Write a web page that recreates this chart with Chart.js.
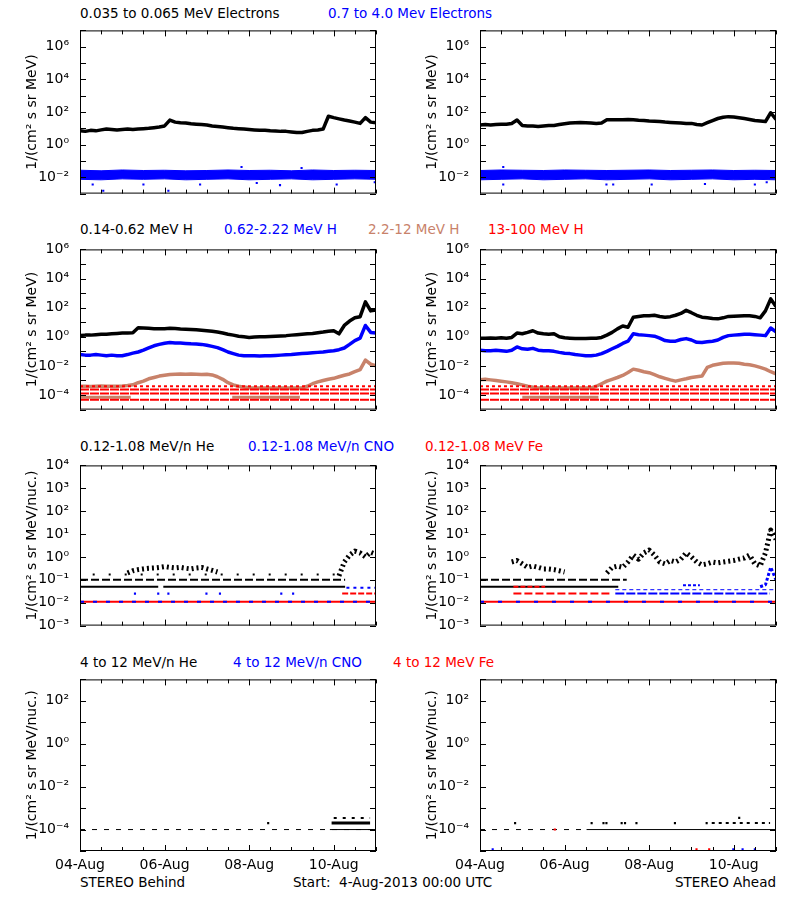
<!DOCTYPE html>
<html>
<head>
<meta charset="utf-8">
<script src="https://cdn.jsdelivr.net/npm/chart.js@4.4.1/dist/chart.umd.min.js"></script>
<style>
body { margin: 0; background: #fff; width: 800px; height: 900px; position: relative; overflow: hidden; font-family: "DejaVu Sans", sans-serif; }
canvas { position: absolute; }
.t { position: absolute; font-size: 13.5px; line-height: 16px; white-space: pre; }
</style>
</head>
<body>
<div class="t" style="left:80px;top:5px;color:#000">0.035 to 0.065 MeV Electrons</div>
<div class="t" style="left:328px;top:5px;color:#0000ff">0.7 to 4.0 Mev Electrons</div>
<div class="t" style="left:80px;top:221px;color:#000">0.14-0.62 MeV H</div>
<div class="t" style="left:224px;top:221px;color:#0000ff">0.62-2.22 MeV H</div>
<div class="t" style="left:368px;top:221px;color:#c8826a">2.2-12 MeV H</div>
<div class="t" style="left:488px;top:221px;color:#ff0000">13-100 MeV H</div>
<div class="t" style="left:80px;top:438px;color:#000">0.12-1.08 MeV/n He</div>
<div class="t" style="left:248px;top:438px;color:#0000ff">0.12-1.08 MeV/n CNO</div>
<div class="t" style="left:425px;top:438px;color:#ff0000">0.12-1.08 MeV Fe</div>
<div class="t" style="left:80px;top:654px;color:#000">4 to 12 MeV/n He</div>
<div class="t" style="left:233px;top:654px;color:#0000ff">4 to 12 MeV/n CNO</div>
<div class="t" style="left:393px;top:654px;color:#ff0000">4 to 12 MeV Fe</div>
<div class="t" style="left:80px;top:874px">STEREO Behind</div>
<div class="t" style="left:293px;top:874px">Start:  4-Aug-2013 00:00 UTC</div>
<div class="t" style="right:24px;top:874px">STEREO Ahead</div>
<script>
// time axis: days since 04-Aug-2013 00:00, values every 3 hours
const STEP = 0.125;
const dayLabels = ['04-Aug', '05-Aug', '06-Aug', '07-Aug', '08-Aug', '09-Aug', '10-Aug', '11-Aug'];

// ---- row 1: electrons ----
const eLowB = [7,6.5,7.5,7,8,9,8.5,8,8.5,9,8.5,9,9.5,10,11,12,14,32,24,22,21,19,18,17,16,14,13,12,11,10,9.5,9,8.5,8,7.5,7.5,7,6.8,6.5,6.5,6,5.5,5.5,6.5,7.5,8,9,55,45,38,32,28,24,20,45,24,22];
const eLowA = [16,17,16,17,18,18,20,32,15,14,14,13,14,15,15,17,19,21,22,23,22,21,20,21,33,34,33,34,35,33,31,30,28,27,26,24,23,22,21,20,20,17,16,22,30,40,48,52,50,45,40,35,30,28,26,90,35];
// high-energy electron band, upper / lower edge every 12 h
const eHiTopB = [0.027,0.025,0.028,0.026,0.027,0.025,0.026,0.028,0.026,0.027,0.025,0.028,0.026,0.027,0.026];
const eHiBotB = [0.0075,0.007,0.008,0.0075,0.008,0.007,0.0075,0.008,0.007,0.0075,0.008,0.007,0.0075,0.008,0.0075];
const eHiTopA = [0.026,0.028,0.027,0.026,0.028,0.027,0.026,0.027,0.028,0.026,0.027,0.028,0.026,0.027,0.026];
const eHiBotA = [0.007,0.0075,0.008,0.007,0.0075,0.008,0.007,0.0075,0.008,0.007,0.0075,0.008,0.007,0.0075,0.007];
const eOutB_t = [0.30,0.55,1.50,2.09,2.84,3.82,4.18,4.73,5.24,6.07,6.97];
const eOutB_v = [0.0036,0.0015,0.0036,0.0015,0.0036,0.043,0.0045,0.0033,0.037,0.0036,0.005];
const eOutA_t = [0.55,0.55,2.99,3.15,4.06,5.32,6.50,6.78];
const eOutA_v = [0.043,0.0036,0.0036,0.0036,0.0036,0.0039,0.0036,0.005];

// ---- row 2: protons ----
const pLoB = [1.2,1.3,1.3,1.4,1.5,1.5,1.6,1.7,1.8,1.8,1.9,4.2,4.0,3.8,3.6,3.5,3.6,3.8,3.7,3.4,3.3,3.2,3.0,2.8,2.6,2.4,2.1,1.8,1.5,1.3,1.1,1.0,0.9,0.95,1.0,1.0,1.05,1.1,1.15,1.2,1.3,1.4,1.5,1.6,1.7,1.9,2.1,2.4,2.6,1.6,6,12,20,24,250,60,70];
const pMidB = [0.06,0.055,0.055,0.06,0.055,0.05,0.055,0.05,0.05,0.06,0.075,0.09,0.12,0.17,0.24,0.3,0.36,0.4,0.38,0.37,0.35,0.33,0.32,0.3,0.26,0.22,0.18,0.13,0.09,0.07,0.055,0.05,0.05,0.05,0.048,0.05,0.05,0.052,0.055,0.058,0.06,0.065,0.07,0.075,0.08,0.085,0.09,0.1,0.11,0.13,0.17,0.3,0.55,0.8,6,2.0,1.8];
const pHiB = [4e-4,4e-4,3.8e-4,4e-4,4.2e-4,4e-4,4e-4,4e-4,4.2e-4,4.5e-4,5e-4,7e-4,9e-4,1.3e-3,1.6e-3,2e-3,2.3e-3,2.6e-3,2.7e-3,2.8e-3,2.7e-3,2.8e-3,2.7e-3,2.6e-3,2.7e-3,2.4e-3,1.8e-3,1.2e-3,7e-4,5e-4,4e-4,3.5e-4,3.2e-4,3e-4,3e-4,3e-4,3e-4,3e-4,3e-4,3e-4,3e-4,3e-4,3e-4,4e-4,6e-4,8e-4,1e-3,1.2e-3,1.4e-3,1.8e-3,2.3e-3,2.8e-3,4e-3,5.5e-3,0.025,0.013,0.01];
const pLoA = [0.8,0.8,0.82,0.8,0.85,0.8,0.9,1.8,1.6,2.0,2.6,1.8,1.6,1.5,1.6,1.0,0.85,0.8,0.75,0.75,0.75,0.78,0.8,0.9,1.3,2.0,3.5,5.5,4.5,22,25,28,28,30,25,22,24,30,40,65,45,30,22,20,18,17,20,25,26,27,28,28,25,20,60,400,120];
const pMidA = [0.12,0.11,0.11,0.12,0.11,0.1,0.12,0.2,0.15,0.14,0.16,0.12,0.11,0.11,0.1,0.085,0.075,0.07,0.06,0.055,0.05,0.05,0.055,0.07,0.1,0.15,0.22,0.35,0.5,1.6,1.4,1.3,1.2,1.1,0.8,0.55,0.5,0.5,0.65,0.75,0.6,0.42,0.4,0.45,0.5,0.6,0.9,1.2,1.3,1.4,1.5,1.5,1.4,1.3,1.2,4.0,2.2];
const pHiA = [1.1e-3,1.2e-3,1.1e-3,1e-3,9e-4,8e-4,7e-4,6e-4,5e-4,4e-4,3.5e-4,3e-4,3e-4,3e-4,3e-4,3e-4,3e-4,3e-4,3e-4,3e-4,3e-4,3e-4,4e-4,6e-4,9e-4,1.2e-3,1.6e-3,2.2e-3,3.5e-3,6e-3,5e-3,4e-3,3.4e-3,2.5e-3,1.8e-3,1.4e-3,1.1e-3,9e-4,1.1e-3,1.3e-3,1.6e-3,1.8e-3,2e-3,8e-3,0.011,0.013,0.015,0.016,0.016,0.015,0.013,0.012,0.01,8e-3,6e-3,4e-3,2.8e-3];
// 13-100 MeV H sits on count-quantized levels
const pVhLevels = [4e-4, 2.4e-4, 1.3e-4, 4.7e-5];
const pHiFloor = 7e-5;
const pHiFloorB = [[0, 1.2], [3.6, 5.2]];
const pHiFloorA = [[1.0, 2.8]];

// ---- row 3: 0.12-1.08 MeV/n ions ----
const heLevels = [0.05, 0.1, 0.17];
const heBaseB = [[0, 1.85], [1.97, 6.27]];
const heSecondB = [[0, 6.27]];
const heThirdB = [[0.3, 6.2]];
const heBaseA = [[0, 3.27]];
const heSecondA = [[0, 3.47]];
const heCloudB = [null,null,null,null,null,null,null,null,null,0.2,0.25,0.28,0.3,0.32,0.33,0.35,0.38,0.35,0.33,0.35,0.32,0.3,0.33,0.35,0.3,0.26,0.22,null,null,null,null,null,null,null,null,null,null,null,null,null,null,null,null,null,null,null,null,null,null,0.15,0.6,1.2,1.8,1.5,1.0,1.6,1.3];
const heCloudA = [null,null,null,null,null,null,0.6,0.7,0.5,0.35,0.4,0.35,0.3,0.3,0.28,0.25,0.22,null,null,null,null,null,null,null,0.2,0.35,0.4,0.35,0.6,1.2,0.8,1.5,2.0,1.2,0.6,0.5,0.7,0.6,0.8,1.5,1.0,0.6,0.45,0.5,0.6,0.55,0.6,0.65,0.7,0.8,0.9,1.2,0.5,0.4,1.5,15,6];
const ionFloor = 0.011;
const cnoMid = 0.025;
const cnoDotsB = [0, 1.3, 1.85, 2.09, 2.99, 3.31, 4.76, 5.04];
const feMidB = [[6.2, 7]];
const cnoHighB = [[6.3, 7]];
const cnoHigh = 0.045;
const feEarlyA = [[0.79, 1.54]];
const feEarly = 0.05;
const feMidA = [[0.79, 3.07]];
const cnoMidA = [[3.2, 6.85]];
const cnoUpperA = [[3.2, 7]];
const cnoUpper = 0.037;
const cnoBlobA = [[4.8, 5.2]];
const cnoBlob = 0.058;
const cnoTailA = [null,null,null,null,null,null,null,null,null,null,null,null,null,null,null,null,null,null,null,null,null,null,null,null,null,null,null,null,null,null,null,null,null,null,null,null,null,null,null,null,null,null,null,null,null,null,null,null,null,null,null,null,null,0.05,0.06,0.35,0.1];

// ---- row 4: 4-12 MeV/n ions ----
const hvFloor = 1e-4;
const hvStep = 2e-4;
const hvTop = 3.5e-4;
const hvSolidB = [[5.91, 7]];
const hvStepB = [[5.95, 6.86]];
const hvTopB = [[6.0, 6.86]];
const hvDotB = [4.45];
const hvSolidA = [[2.52, 7]];
const hvDashA = [[0, 2.52]];
const hvDotsA = [0.83, 2.64, 2.92, 2.99, 3.35, 3.43, 3.70, 4.61, 5.36];
const hvStepA = [[5.48, 6.46], [6.5, 6.86]];
const hvTopDotA = [6.13];
const hvLow = 1.2e-5;
const hvLowBlueA = [0.30, 5.99, 6.21, 6.5];
const hvLowRedA = [5.12, 5.42];
const hvRedA = [1.77];

const BLACK = '#000000', BLUE = '#0000ff', RED = '#ff0000', BROWN = '#c8826a';

function series(vals, color, w, step, dash) {
  return {
    data: vals.map((v, i) => ({x: i * (step || STEP), y: v})),
    showLine: true, borderColor: color, borderWidth: w || 3.5, borderDash: dash || [],
    pointRadius: 0, spanGaps: false, borderJoinStyle: 'round'
  };
}
function spans(list, level, color, w, dash) {
  const data = [];
  list.forEach(([a, b]) => { data.push({x: a, y: level}, {x: b, y: level}, {x: b, y: null}); });
  return { data, showLine: true, borderColor: color, borderWidth: w || 2, borderDash: dash || [], pointRadius: 0, spanGaps: false };
}
function dots(days, vals, color, r) {
  return {
    data: days.map((d, i) => ({x: d, y: Array.isArray(vals) ? vals[i] : vals})),
    showLine: false, pointStyle: 'rect', pointRadius: r || 1.5, backgroundColor: color, borderWidth: 0
  };
}
function band(top, bot, color) {
  const lo = series(bot, color, 1, 0.5);
  const hi = series(top, color, 1, 0.5);
  hi.fill = '-1'; hi.backgroundColor = color;
  return [lo, hi];
}

const SUP = {'-': '\u207b', '0': '\u2070', '1': '\u00b9', '2': '\u00b2', '3': '\u00b3', '4': '\u2074', '5': '\u2075', '6': '\u2076', '7': '\u2077', '8': '\u2078', '9': '\u2079'};
function sup(e) { return String(e).split('').map(c => SUP[c]).join(''); }

const ROWS = [
  {top: 23, bottom: 203, lo: -3, hi: 7, every: 2, title: '1/(cm\u00b2 s sr MeV)'},
  {top: 242, bottom: 419, lo: -5, hi: 6, every: 2, title: '1/(cm\u00b2 s sr MeV)'},
  {top: 458, bottom: 635, lo: -3, hi: 4, every: 1, title: '1/(cm\u00b2 s sr MeV/nuc.)'},
  {top: 672, bottom: 851, lo: -5, hi: 3, every: 2, title: '1/(cm\u00b2 s sr MeV/nuc.)'}
];

const frame = {
  id: 'frame',
  afterDraw(chart) {
    const {ctx, chartArea: a} = chart;
    const x = chart.scales.x, y = chart.scales.y;
    ctx.save();
    ctx.strokeStyle = '#000';
    ctx.lineWidth = 1;
    ctx.strokeRect(a.left + 0.5, a.top + 0.5, a.width - 1, a.height - 1);
    ctx.beginPath();
    x.ticks.forEach(t => {
      const px = Math.round(x.getPixelForValue(t.value)) + 0.5;
      const len = t.value % 2 === 0 ? 6 : 4;
      ctx.moveTo(px, a.bottom); ctx.lineTo(px, a.bottom - len);
      ctx.moveTo(px, a.top); ctx.lineTo(px, a.top + len);
    });
    y.ticks.forEach(t => {
      const py = Math.round(y.getPixelForValue(t.value)) + 0.5;
      ctx.moveTo(a.left, py); ctx.lineTo(a.left + 6, py);
      ctx.moveTo(a.right, py); ctx.lineTo(a.right - 6, py);
    });
    ctx.stroke();
    ctx.restore();
  }
};

function panel(rowIdx, col, datasets) {
  const row = ROWS[rowIdx];
  const last = rowIdx === 3;
  const xH = last ? 30 : 10;
  const cv = document.createElement('canvas');
  cv.width = 400;
  cv.height = 12 + (row.bottom - row.top) + xH;
  cv.style.left = (col * 400) + 'px';
  cv.style.top = (row.top - 12) + 'px';
  document.body.appendChild(cv);
  datasets.forEach((d, i) => { d.order = datasets.length - i; });
  const exps = [];
  for (let e = row.lo; e <= row.hi; e++) exps.push(e);
  new Chart(cv, {
    type: 'scatter',
    data: { datasets },
    options: {
      responsive: false, animation: false, devicePixelRatio: 1,
      layout: { padding: {top: 12, right: 24, left: 0, bottom: 0} },
      plugins: { legend: {display: false}, tooltip: {enabled: false} },
      scales: {
        x: {
          type: 'linear', min: 0, max: 7,
          grid: {display: false, drawTicks: false}, border: {display: false},
          afterBuildTicks: s => { const t = []; for (let v = 0; v <= 7; v += 0.5) t.push({value: v}); s.ticks = t; },
          afterFit: s => { s.height = xH; },
          ticks: {
            display: last, autoSkip: false, maxRotation: 0, padding: 6, color: '#000',
            font: {family: 'DejaVu Sans', size: 14},
            callback: v => (Number.isInteger(v) && v % 2 === 0) ? dayLabels[v] : ''
          }
        },
        y: {
          type: 'logarithmic', min: Math.pow(10, row.lo), max: Math.pow(10, row.hi),
          grid: {display: false, drawTicks: false}, border: {display: false},
          afterBuildTicks: s => { s.ticks = exps.map(e => ({value: Math.pow(10, e)})); },
          afterFit: s => { s.width = 80; },
          ticks: {
            autoSkip: false, padding: 11, color: '#000',
            font: {family: 'DejaVu Sans', size: 14},
            callback: v => { const e = Math.round(Math.log10(v)); return e % row.every === 0 ? '10' + sup(e) : ''; }
          },
          title: {
            display: true, text: row.title, color: '#000',
            font: {family: 'DejaVu Sans', size: 14}, padding: {top: 24, bottom: 0}
          }
        }
      }
    },
    plugins: [frame]
  });
}

// row 1
panel(0, 0, [series(eLowB, BLACK), ...band(eHiTopB, eHiBotB, BLUE), dots(eOutB_t, eOutB_v, BLUE)]);
panel(0, 1, [series(eLowA, BLACK), ...band(eHiTopA, eHiBotA, BLUE), dots(eOutA_t, eOutA_v, BLUE)]);

// row 2
function redLevels() {
  return pVhLevels.map((lv, i) => spans([[0, 7]], lv, RED, 2, i === 0 ? [3, 3] : [9, 1]));
}
panel(1, 0, [series(pLoB, BLACK), series(pMidB, BLUE), spans(pHiFloorB, pHiFloor, BROWN, 3), series(pHiB, BROWN), ...redLevels()]);
panel(1, 1, [series(pLoA, BLACK), series(pMidA, BLUE), spans(pHiFloorA, pHiFloor, BROWN, 3), series(pHiA, BROWN), ...redLevels()]);

// row 3
panel(2, 0, [
  spans(heBaseB, heLevels[0], BLACK, 2),
  spans(heSecondB, heLevels[1], BLACK, 2, [8, 3]),
  spans(heThirdB, heLevels[2], BLACK, 2, [2, 14]),
  series(heCloudB, BLACK, 5, STEP, [2, 3]),
  spans([[0, 7]], ionFloor, RED, 2),
  spans([[0, 7]], ionFloor, BLUE, 2, [4, 9]),
  spans(feMidB, cnoMid, RED, 2, [6, 2]),
  spans(cnoHighB, cnoHigh, BLUE, 2, [3, 4]),
  dots(cnoDotsB, cnoMid, BLUE)
]);
panel(2, 1, [
  spans(heBaseA, heLevels[0], BLACK, 2),
  spans(heSecondA, heLevels[1], BLACK, 2, [8, 3]),
  series(heCloudA, BLACK, 5, STEP, [2, 3]),
  spans([[0, 7]], ionFloor, RED, 2),
  spans([[0, 7]], ionFloor, BLUE, 2, [4, 14]),
  spans(feEarlyA, feEarly, RED, 2, [5, 2]),
  spans(feMidA, cnoMid, RED, 2, [8, 3]),
  spans(cnoMidA, cnoMid, BLUE, 2, [9, 2]),
  spans(cnoUpperA, cnoUpper, BLUE, 1, [4, 3]),
  spans(cnoBlobA, cnoBlob, BLUE, 2, [3, 2]),
  series(cnoTailA, BLUE, 3, STEP, [3, 2])
]);

// row 4
panel(3, 0, [
  spans([[0, 7]], hvFloor, BLACK, 1, [5, 7]),
  spans(hvSolidB, hvFloor, BLACK, 1),
  spans(hvStepB, hvStep, BLACK, 3),
  spans(hvTopB, hvTop, BLACK, 2, [3, 6]),
  dots(hvDotB, hvStep, BLACK)
]);
panel(3, 1, [
  spans(hvDashA, hvFloor, BLACK, 1, [5, 7]),
  spans(hvSolidA, hvFloor, BLACK, 1),
  dots(hvDotsA, hvStep, BLACK),
  spans(hvStepA, hvStep, BLACK, 2, [3, 4]),
  dots(hvTopDotA, hvTop, BLACK),
  dots(hvRedA, hvFloor, RED),
  dots(hvLowBlueA, hvLow, BLUE),
  dots(hvLowRedA, hvLow, RED)
]);
</script>
</body>
</html>
